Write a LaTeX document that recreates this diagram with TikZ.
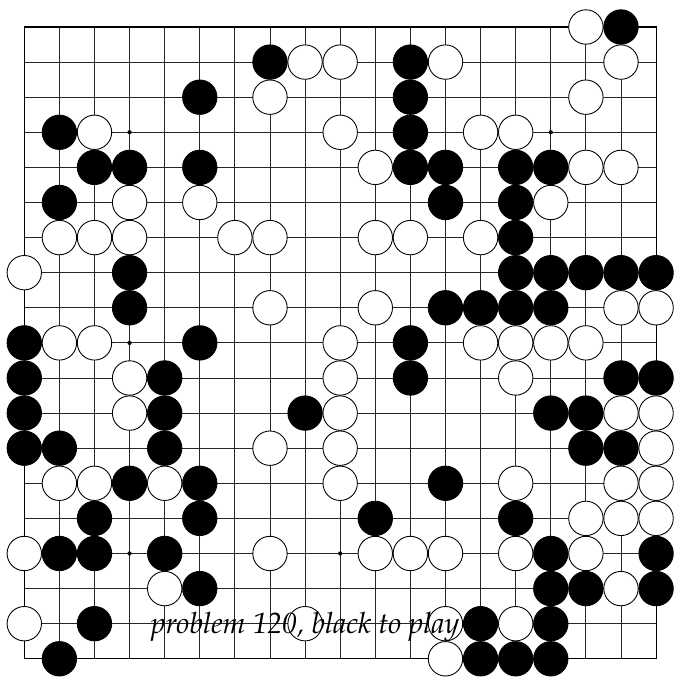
\documentclass[tikz,border=0pt]{standalone}
\begin{document}
\begin{tikzpicture}[x=0.702cm,y=-0.702cm]
\tikzset{
  boardline/.style={draw=black!85, line width=.55pt},
  boardedge/.style={draw=black, line width=.6pt},
  blackstone/.style={draw=black, fill=black, line width=.5pt},
  whitestone/.style={draw=black, fill=white, line width=.5pt},
  caption/.style={font=\fontencoding{T1}\fontfamily{ppl}\fontsize{16.7}{19}\selectfont\itshape, inner sep=0pt}
}
\useasboundingbox (-0.692,-0.769) rectangle (18.538,18.519);

% board
\foreach \i in {1,...,17} {
  \draw[boardline] (\i,0) -- (\i,18);
  \draw[boardline] (0,\i) -- (18,\i);
}
\draw[boardedge] (0,0) rectangle (18,18);
\foreach \x in {3,9,15}
  \foreach \y in {3,9,15}
    \fill (\x,\y) circle (.06);

% black stones, row by row
\foreach \y/\xs in {0/{17},1/{7,11},2/{5,11},3/{1,11},4/{2,3,5,11,12,14,15},
    5/{1,12,14},6/{14},7/{3,14,15,16,17,18},8/{3,12,13,14,15},9/{0,5,11},
    10/{0,4,11,17,18},11/{0,4,8,15,16},12/{0,1,4,16,17},13/{3,5,12},
    14/{2,5,10,14},15/{1,2,4,15,18},16/{5,15,16,18},17/{2,13,15},18/{1,13,14,15}}
  \foreach \x in \xs
    \draw[blackstone] (\x,\y) circle (.49);

% white stones
\foreach \y/\xs in {0/{16},1/{8,9,12,17},2/{7,16},3/{2,9,13,14},4/{10,16,17},
    5/{3,5,15},6/{1,2,3,6,7,10,11,13},7/{0},8/{7,10,17,18},9/{1,2,9,13,14,15,16},
    10/{3,9,14},11/{3,9,17,18},12/{7,9,18},13/{1,2,4,9,14,17,18},14/{16,17,18},
    15/{0,7,10,11,12,14,16},16/{4,17},17/{0,8,12,14},18/{12}}
  \foreach \x in \xs
    \draw[whitestone] (\x,\y) circle (.49);

\node[caption, anchor=base] (problem) at (8,17.29) {problem 120, black to play};
\end{tikzpicture}
\end{document}
